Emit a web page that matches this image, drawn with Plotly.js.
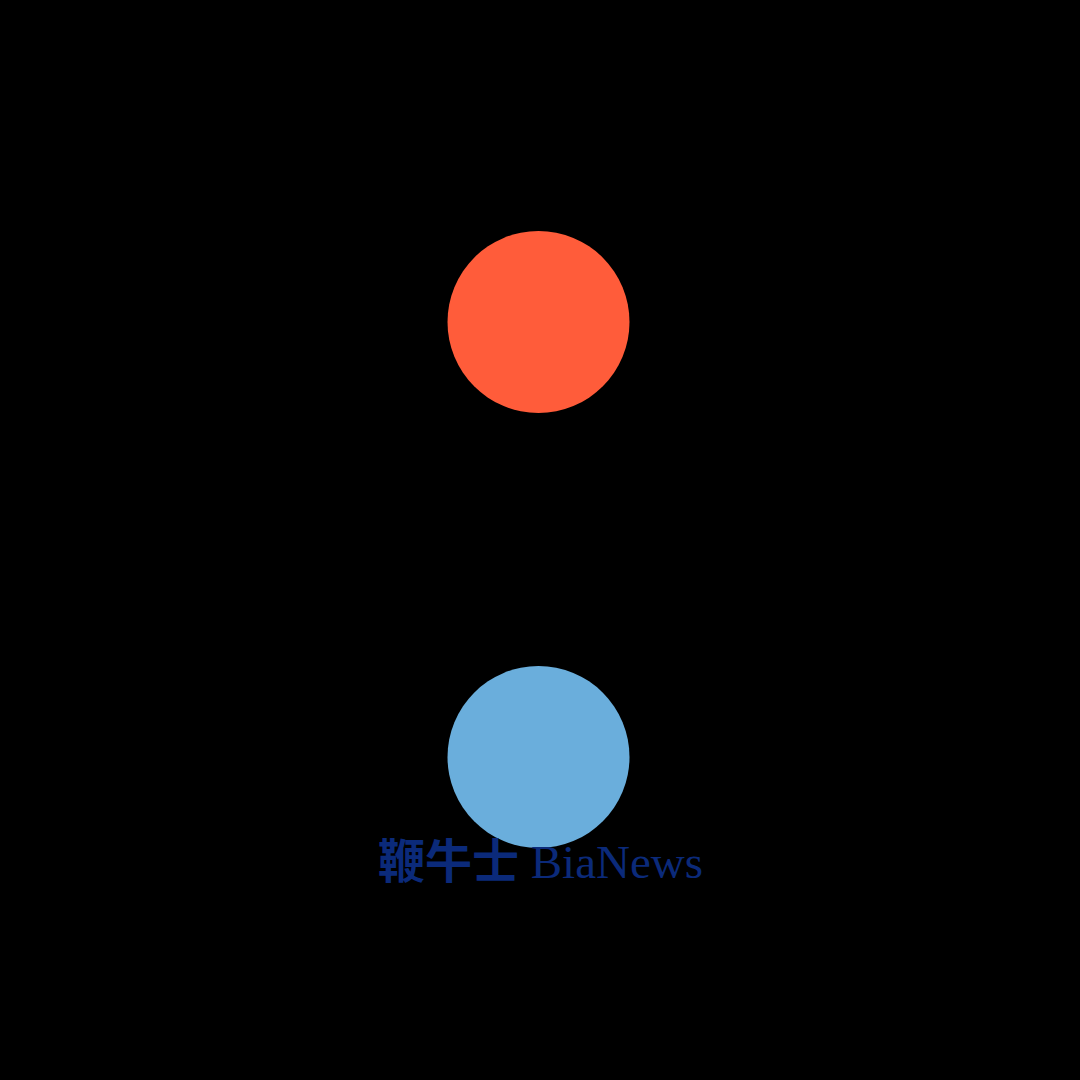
<!DOCTYPE html>
<html>
<head>
<meta charset="utf-8">
<script src="https://cdn.plot.ly/plotly-3.0.1.min.js"></script>
<style>
  html, body { margin: 0; padding: 0; background: #000; }
  #chart { width: 1080px; height: 1080px; }
</style>
</head>
<body>
<div id="chart"></div>
<script>
// two dots on a black field, logo text underneath
var dotNames = ['top', 'bottom'];
var dotX = [538.5, 538.5];
var dotY = [322, 757];
var dotColors = ['#ff5c3a', '#6aaedc'];
var logoCn = '鞭牛士';
var logoEn = 'BiaNews';

var trace = {
    x: dotX, y: dotY,
    text: dotNames,
    mode: 'markers',
    type: 'scatter',
    hoverinfo: 'none',
    marker: {
        size: 182,
        color: dotColors,
        line: {width: 0},
        opacity: 1
    }
};

var layout = {
    width: 1080,
    height: 1080,
    paper_bgcolor: '#000000',
    plot_bgcolor: '#000000',
    showlegend: false,
    xaxis: {range: [0, 1080], visible: false, fixedrange: true},
    yaxis: {range: [1080, 0], visible: false, fixedrange: true},
    margin: {l: 0, r: 0, b: 0, t: 0},
    annotations: [{
        text: '<b>' + logoCn + '</b> ' + logoEn,
        x: 540, y: 862,
        xref: 'x', yref: 'y',
        showarrow: false,
        font: {family: 'Liberation Serif, "Noto Sans CJK SC", serif', size: 47, color: '#0b2a7a'}
    }]
};

Plotly.newPlot('chart', [trace], layout, {staticPlot: true});
</script>
</body>
</html>
